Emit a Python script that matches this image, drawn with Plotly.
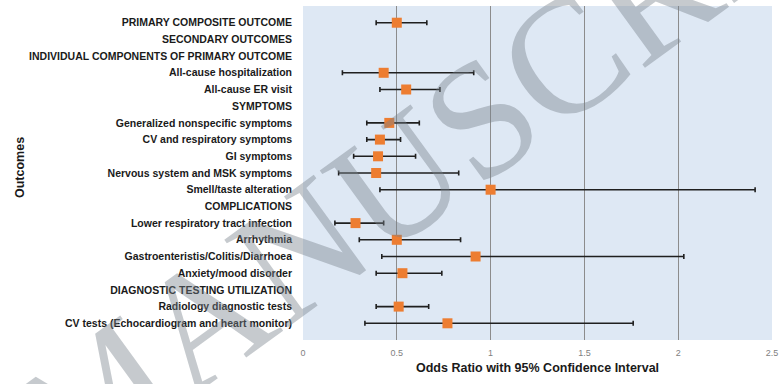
import plotly.graph_objects as go

outcomes = [
    "PRIMARY COMPOSITE OUTCOME",
    "SECONDARY OUTCOMES",
    "INDIVIDUAL COMPONENTS OF PRIMARY OUTCOME",
    "All-cause hospitalization",
    "All-cause ER visit",
    "SYMPTOMS",
    "Generalized nonspecific symptoms",
    "CV and respiratory symptoms",
    "GI symptoms",
    "Nervous system and MSK symptoms",
    "Smell/taste alteration",
    "COMPLICATIONS",
    "Lower respiratory tract infection",
    "Arrhythmia",
    "Gastroenteristis/Colitis/Diarrhoea",
    "Anxiety/mood disorder",
    "DIAGNOSTIC TESTING UTILIZATION",
    "Radiology diagnostic tests",
    "CV tests (Echocardiogram and heart monitor)",
]
odds_ratio = [0.50, None, None, 0.43, 0.55, None, 0.46, 0.41, 0.40, 0.39, 1.00, None,
              0.28, 0.50, 0.92, 0.53, None, 0.51, 0.77]
ci_low = [0.39, None, None, 0.21, 0.41, None, 0.34, 0.34, 0.27, 0.19, 0.41, None,
          0.17, 0.30, 0.42, 0.39, None, 0.39, 0.33]
ci_high = [0.66, None, None, 0.91, 0.73, None, 0.62, 0.52, 0.60, 0.83, 2.41, None,
           0.43, 0.84, 2.03, 0.74, None, 0.67, 1.76]
x_ticks = [0, 0.5, 1, 1.5, 2, 2.5]
x_tick_labels = ["0", "0.5", "1", "1.5", "2", "2.5"]
watermark_text = "MANUSCRIPT"

idx = [i for i, v in enumerate(odds_ratio) if v is not None]
xs = [odds_ratio[i] for i in idx]
ys = [outcomes[i] for i in idx]
plus = [ci_high[i] - odds_ratio[i] for i in idx]
minus = [odds_ratio[i] - ci_low[i] for i in idx]

fig = go.Figure()
fig.add_trace(go.Scatter(
    x=xs, y=ys, mode="markers",
    marker=dict(symbol="square", size=10, color="#ED7D31"),
    error_x=dict(type="data", array=plus, arrayminus=minus, symmetric=False,
                 color="#1f1f1f", thickness=1.6, width=2.5),
    showlegend=False,
))

fig.update_layout(
    width=781, height=384,
    margin=dict(l=303, r=9, t=6, b=44),
    paper_bgcolor="white",
    plot_bgcolor="#DEE8F4",
    font=dict(family="Liberation Sans, Arial, sans-serif", color="#000000"),
    xaxis=dict(
        range=[0, 2.5], tickvals=x_ticks, ticktext=x_tick_labels,
        showgrid=True, gridcolor="#8c8c8c", gridwidth=1,
        zeroline=False, showline=False, automargin=False,
        tickfont=dict(size=9, color="#7f7f7f"), ticks="", ticklabelstandoff=6,
    ),
    yaxis=dict(
        categoryorder="array", categoryarray=outcomes, type="category",
        range=[len(outcomes), -1], automargin=False,
        showgrid=False, zeroline=False, showline=False,
        tickfont=dict(size=10.5, color="#1a1a1a", family="Liberation Sans, Arial, sans-serif", weight="bold"),
        ticks="", ticklabelstandoff=10,
    ),
    annotations=[
        dict(text="<b>Odds Ratio with 95% Confidence Interval</b>", xref="paper", yref="paper",
             x=0.5, y=0, yshift=-28, showarrow=False, yanchor="middle",
             font=dict(size=12.5, color="#1a1a1a")),
        dict(text="<b>Outcomes</b>", xref="paper", yref="paper", x=0, xshift=-283,
             y=0.5, yshift=5, showarrow=False, textangle=-90, xanchor="center",
             font=dict(size=12.5, color="#1a1a1a")),
        dict(text=watermark_text, xref="paper", yref="paper", x=0.350, y=0.632,
             showarrow=False, textangle=-36, xanchor="center", yanchor="middle",
             font=dict(size=165, family="Liberation Serif, Times New Roman, serif",
                       color="rgba(120,128,138,0.42)")),
    ],
)

fig.write_html("out.html", config={"displayModeBar": False},
               post_script="document.body.style.margin='0px';")
